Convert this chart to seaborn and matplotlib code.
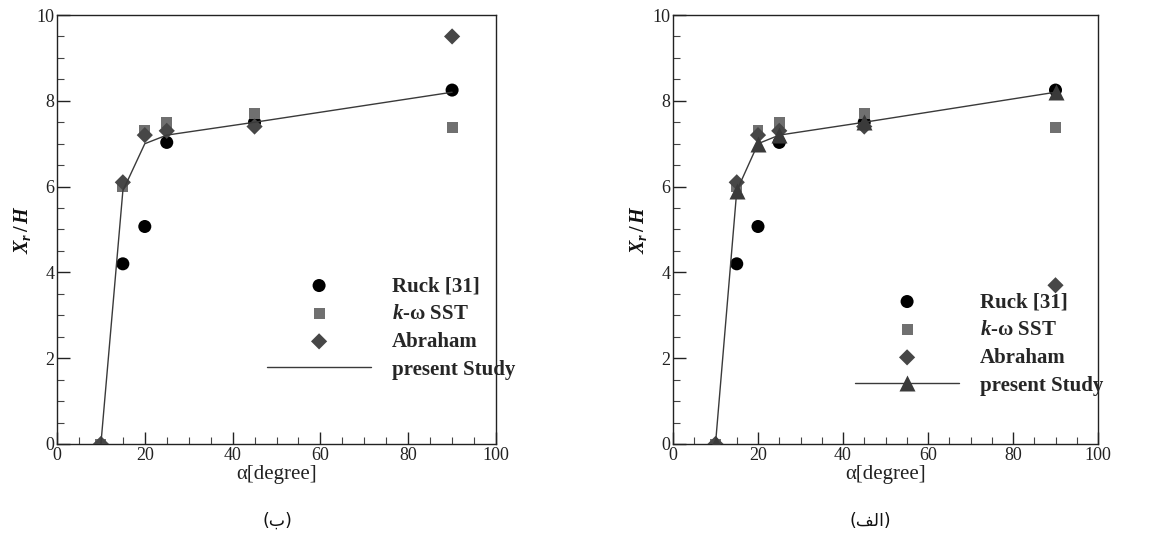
import numpy as np
import pandas as pd
import matplotlib
matplotlib.use("Agg")
import matplotlib.pyplot as plt
from matplotlib.ticker import MultipleLocator
import seaborn as sns

# ---- data -------------------------------------------------------------
angle = [10, 15, 20, 25, 45, 90]

ruck_x = [15, 20, 25, 45, 90]
ruck_y = [4.2, 5.07, 7.03, 7.5, 8.25]

sst_y = [0.0, 6.0, 7.3, 7.5, 7.7, 7.38]

abraham_y_b = [0.0, 6.1, 7.2, 7.3, 7.4, 9.5]
abraham_y_a = [0.0, 6.1, 7.2, 7.3, 7.4, 3.7]

present_y = [0.0, 5.9, 7.0, 7.2, 7.5, 8.2]

legend_labels = ["Ruck [31]", r"$\mathbfit{k}$-ω SST", "Abraham", "present Study"]
captions = ["(ب)", "(ﻒﻟﺍ)"]
x_label = "α[degree]"
y_label = r"$X_r\,/\,H$"

# ---- style ------------------------------------------------------------
sns.set_theme(style="white")
plt.rcParams["font.family"] = ["Liberation Serif", "DejaVu Serif"]
plt.rcParams["mathtext.fontset"] = "custom"
plt.rcParams["mathtext.rm"] = "Liberation Serif:bold"
plt.rcParams["mathtext.it"] = "Liberation Serif:italic:bold"
plt.rcParams["mathtext.bf"] = "Liberation Serif:bold"
plt.rcParams["mathtext.bfit"] = "Liberation Serif:italic:bold"

fig = plt.figure(figsize=(11.72, 5.38), dpi=100)
ax_b = fig.add_axes([57 / 1172, 94 / 538, 439 / 1172, 429 / 538])
ax_a = fig.add_axes([673 / 1172, 94 / 538, 425 / 1172, 429 / 538])

C_RUCK = "#000000"
C_SST = "#707070"
C_ABR = "#474747"
C_LINE = "#3a3a3a"


def draw(ax, abraham_y, with_triangles, legend_anchor):
    sns.scatterplot(x=ruck_x, y=ruck_y, ax=ax, marker="o", s=88,
                    color=C_RUCK, edgecolor="none", label=legend_labels[0], zorder=3)
    sns.scatterplot(x=angle, y=sst_y, ax=ax, marker="s", s=62,
                    color=C_SST, edgecolor="none", label=legend_labels[1], zorder=3)
    sns.scatterplot(x=angle, y=abraham_y, ax=ax, marker="D", s=68,
                    color=C_ABR, edgecolor="none", label=legend_labels[2], zorder=3)
    sns.lineplot(x=angle, y=present_y, ax=ax, color=C_LINE, linewidth=1.0,
                 marker="^" if with_triangles else None, markersize=11,
                 markeredgecolor="none", label=legend_labels[3], zorder=4)

    ax.set_xlim(0, 100)
    ax.set_ylim(0, 10)
    ax.xaxis.set_major_locator(MultipleLocator(20))
    ax.xaxis.set_minor_locator(MultipleLocator(5))
    ax.yaxis.set_major_locator(MultipleLocator(2))
    ax.yaxis.set_minor_locator(MultipleLocator(0.5))
    ax.tick_params(which="major", direction="in", length=9, width=1.0,
                   labelsize=13, colors="#222222", pad=2)
    ax.tick_params(which="minor", direction="in", length=5, width=0.8,
                   colors="#444444")
    ax.tick_params(top=False, right=False, bottom=True, left=True, which="both")
    for sp in ax.spines.values():
        sp.set_color("#222222")
        sp.set_linewidth(1.0)

    ax.set_xlabel(x_label, fontsize=15, color="#222222", labelpad=1)
    ax.set_ylabel(y_label, fontsize=14.5, color="#111111", labelpad=2)

    leg = ax.legend(loc="upper left", bbox_to_anchor=legend_anchor,
                    bbox_transform=fig.transFigure, frameon=False,
                    handlelength=5.0, handletextpad=1.0,
                    labelspacing=0.38, borderpad=0, borderaxespad=0,
                    prop={"family": "Liberation Serif", "weight": "bold", "size": 15})
    return leg


draw(ax_b, abraham_y_b, False, (267 / 1172, 1 - 276 / 538))
draw(ax_a, abraham_y_a, True, (855 / 1172, 1 - 292 / 538))

fig.text(277 / 1172, 1 - 521 / 538, captions[0], ha="center", va="center",
         fontsize=12.5, family="DejaVu Sans", color="#111111")
fig.text(870 / 1172, 1 - 521 / 538, captions[1], ha="center", va="center",
         fontsize=12.5, family="DejaVu Sans", color="#111111")

fig.savefig("out.png", dpi=100, facecolor="white")
